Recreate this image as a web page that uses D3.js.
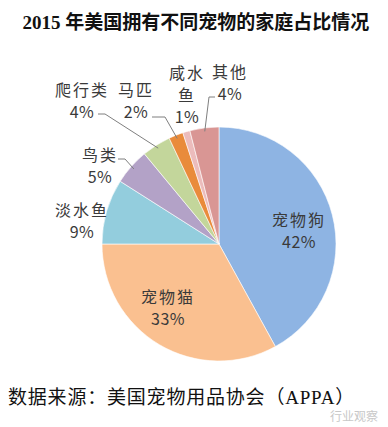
<!DOCTYPE html>
<html>
<head>
<meta charset="utf-8">
<script src="https://cdn.jsdelivr.net/npm/d3@7"></script>
<style>
  html, body { margin: 0; padding: 0; background: #fff; }
  svg { display: block; }
</style>
</head>
<body>
<div id="chart"></div>
<script>
// data
const names = ['宠物狗', '宠物猫', '淡水鱼', '鸟类', '爬行类', '马匹', '咸水鱼', '其他']
const values = [42, 33, 9, 5, 4, 2, 1, 4]
const colors = ['#8eb4e3', '#fac090', '#93cddd', '#b3a2c7', '#c3d69b', '#e98b3b', '#ecbcbc', '#d99694']

// layout: label positions relative to pie center, and line breaks
const labelLines = [['宠物狗'], ['宠物猫'], ['淡水鱼'], ['鸟类'], ['爬行类'], ['马匹'], ['咸水', '鱼'], ['其他']]
const labelOffset = [[80, -24], [-51, 53], [-137, -34], [-119, -89], [-137, -154], [-83, -154], [-32, -171], [11, -172]]
// leader lines: [startX, y, elbowX] relative to center, null = none
const leaders = [null, null, null, [-101, -85, -94], [-121, -130, -114], [-67, -127, -54], null, [-4, -147, -10]]

const width = 388
const height = 427
const cx = 219
const cy = 244
const radius = 117

const svg = d3.select('#chart')
    .append('svg')
    .attr('width', width)
    .attr('height', height)

// title
svg.append('text')
    .attr('x', 196)
    .attr('y', 29)
    .attr('text-anchor', 'middle')
    .attr('font-family', '"Liberation Serif", "Noto Sans CJK SC", serif')
    .attr('font-weight', 'bold')
    .attr('font-size', 19)
    .attr('fill', '#111')
    .text('2015 年美国拥有不同宠物的家庭占比情况')

const pie = d3.pie().sort(null).value(d => d)
const arcs = pie(values)

const arc = d3.arc().innerRadius(0).outerRadius(radius)
const edgeArc = d3.arc().innerRadius(radius * 0.97).outerRadius(radius * 0.97)

const ctr = svg.append('g')
    .attr('transform', `translate(${cx}, ${cy})`)

ctr.selectAll('path.slice')
    .data(arcs)
    .join('path')
    .attr('class', 'slice')
    .attr('d', arc)
    .attr('fill', (d, i) => colors[i])
    .attr('stroke', '#fff')
    .attr('stroke-width', 0.6)

// leader lines
ctr.selectAll('path.leader')
    .data(arcs.filter((d, i) => leaders[i]))
    .join('path')
    .attr('class', 'leader')
    .attr('d', d => {
        const l = leaders[d.index]
        const p = edgeArc.centroid(d)
        return `M${l[0]},${l[1]}L${l[2]},${l[1]}L${p[0]},${p[1]}`
    })
    .attr('fill', 'none')
    .attr('stroke', '#7f7f7f')
    .attr('stroke-width', 1)

// labels
const lbl = ctr.selectAll('g.label')
    .data(arcs)
    .join('g')
    .attr('class', 'label')
    .attr('transform', d => `translate(${labelOffset[d.index][0]}, ${labelOffset[d.index][1]})`)

lbl.each(function (d) {
    const g = d3.select(this)
    const lines = labelLines[d.index].concat([values[d.index] + '%'])
    lines.forEach((t, k) => {
        g.append('text')
            .attr('x', 0)
            .attr('y', k * 22)
            .attr('dy', '0.35em')
            .attr('text-anchor', 'middle')
            .attr('font-family', '"Noto Sans CJK SC", "Noto Sans", sans-serif')
            .attr('font-size', 16)
            .attr('letter-spacing', t.includes('%') ? 0.5 : 2)
            .attr('fill', '#3a3a3a')
            .text(t)
    })
})

// source
svg.append('text')
    .attr('x', 8)
    .attr('y', 404)
    .attr('font-family', '"Liberation Serif", "Noto Sans CJK SC", serif')
    .attr('font-size', 19)
    .attr('letter-spacing', 0.8)
    .attr('fill', '#111')
    .text('数据来源：美国宠物用品协会（APPA）')

// watermark
svg.append('text')
    .attr('x', 330)
    .attr('y', 421)
    .attr('font-family', '"Noto Sans CJK SC", sans-serif')
    .attr('font-size', 12)
    .attr('fill', '#c8c8c8')
    .text('行业观察')
</script>
</body>
</html>
